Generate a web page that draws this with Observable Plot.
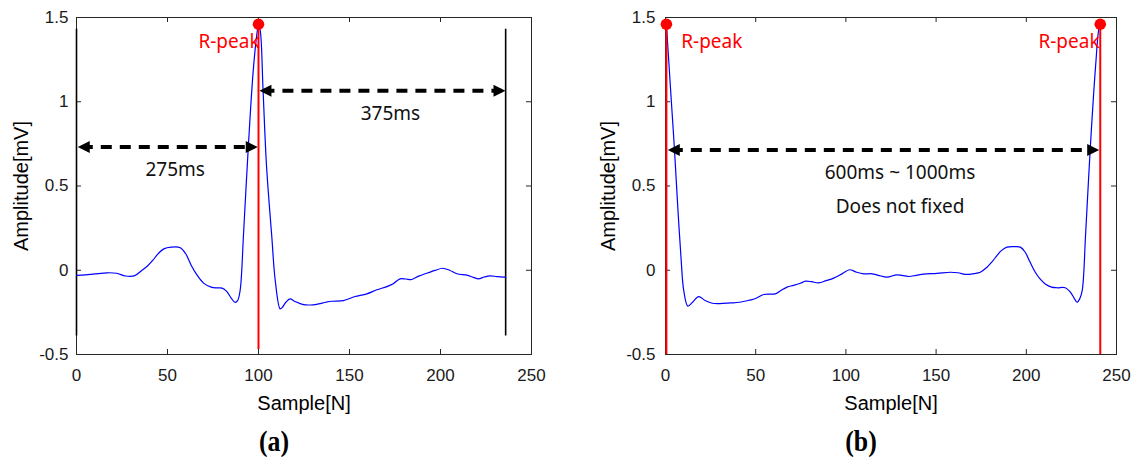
<!DOCTYPE html>
<html><head><meta charset="utf-8">
<script src="https://cdn.jsdelivr.net/npm/d3@7"></script>
<script src="https://cdn.jsdelivr.net/npm/@observablehq/plot@0.6"></script>
<style>
html,body{margin:0;padding:0;background:#fff;}
#wrap{position:relative;width:1135px;height:457px;overflow:hidden;background:#fff;}
.panel{position:absolute;top:0;}
.cap{position:absolute;top:441px;transform:translate(-50%,-50%) scaleX(0.86);font-family:"Liberation Serif","Times New Roman",serif;font-weight:bold;font-size:30px;line-height:1;color:#000;}
</style></head><body>
<div id="wrap">
  <div id="pa" class="panel" style="left:0px"></div>
  <div id="pb" class="panel" style="left:560px"></div>
  <div class="cap" style="left:274px">(a)</div>
  <div class="cap" style="left:861px">(b)</div>
</div>
<script>
// ---- axes ----
const xTicks = [0, 50, 100, 150, 200, 250];
const yTicks = [-0.5, 0, 0.5, 1, 1.5];
const yTickLabels = ["-0.5", "0", "0.5", "1", "1.5"];
const xLabel = "Sample[N]";
const yLabel = "Amplitude[mV]";

// ---- panel (a) ECG ----
const sampleA = [0,5,10,17,22,27,32,36,39,42,45,48,52,57,60,63,66,70,74,77,80,82.5,85,87,88.5,89.9,91.8,94.5,97.3,99.6,100,101,102.5,104.4,107.3,109.2,111.9,113,115,117.4,120,124.7,130,133,137,140.3,146.7,150,153.1,159.5,165,170.5,174,177.8,181,184.2,188,191.6,195,197,201.1,205,209,214.5,218,220.9,224,227.3,231,234.6,235.8];
const ampA    = [-0.03,-0.028,-0.022,-0.015,-0.018,-0.034,-0.032,0.0,0.025,0.06,0.1,0.127,0.137,0.134,0.098,0.03,-0.025,-0.078,-0.1,-0.105,-0.106,-0.125,-0.165,-0.19,-0.18,-0.12,0.22,0.75,1.21,1.44,1.46,1.42,1.07,0.62,0.2,-0.061,-0.229,-0.222,-0.19,-0.17,-0.185,-0.204,-0.205,-0.2,-0.19,-0.184,-0.18,-0.168,-0.156,-0.14,-0.116,-0.097,-0.08,-0.051,-0.052,-0.055,-0.035,-0.021,-0.008,-0.001,0.012,0.0,-0.021,-0.029,-0.042,-0.051,-0.04,-0.033,-0.038,-0.041,-0.041];

// ---- panel (b) ECG ----
const sampleB = [0.5,3.2,5.0,6.8,8.7,10.1,12.4,15,18.4,22,25.9,30,36,41,47.1,50,54.5,60.9,64,67.4,71,74.8,77.6,81,84.9,89,93.2,98,102.1,106,109.9,114.5,118,122.8,128.4,134.8,139,143.1,150.5,157.9,162,167.1,171,174.5,178.2,181,183.8,186,189.3,193,196.7,199.4,202,205,207.5,210.5,214,217,221.6,224.4,226.5,228.1,229.6,231,232.9,235.6,238.4,240.3,241];
const ampB    = [1.46,1.009,0.712,0.375,0.058,-0.12,-0.213,-0.19,-0.156,-0.18,-0.196,-0.198,-0.194,-0.19,-0.176,-0.168,-0.144,-0.14,-0.12,-0.1,-0.09,-0.077,-0.065,-0.068,-0.075,-0.062,-0.047,-0.02,0.003,-0.012,-0.021,-0.021,-0.03,-0.041,-0.027,-0.037,-0.03,-0.023,-0.019,-0.012,-0.015,-0.025,-0.02,-0.012,0.018,0.05,0.088,0.115,0.137,0.14,0.137,0.107,0.05,-0.012,-0.05,-0.081,-0.1,-0.104,-0.104,-0.13,-0.165,-0.19,-0.17,-0.12,0.22,0.75,1.21,1.44,1.46];

// ---- R-peaks ----
const peakSampleA = [100];
const peakSampleB = [0.5, 241];
const peakAmp = 1.46;
const redBottomA = -0.47;
const redBottomB = -0.5;
const peakLabel = "R-peak";
const peakLabelSampleA = [100.6];
const peakLabelAnchorA = ["end"];
const peakLabelSampleB = [8.7, 240.6];
const peakLabelAnchorB = ["start", "end"];
const peakLabelAmp = 1.355;

// ---- window limits (a) ----
const windowSampleA = [0, 235.8];
const windowLowA = -0.39;
const windowHighA = 1.43;

// ---- interval arrows ----
const arrowStartA = [2.9, 102.7];
const arrowEndA   = [97.4, 233.5];
const arrowAmpA   = [0.731, 1.066];
const arrowStartB = [3.5];
const arrowEndB   = [238.2];
const arrowAmpB   = [0.713];

// ---- annotation texts ----
const noteTextA   = ["275ms", "375ms"];
const noteSampleA = [54.2, 172.5];
const noteAmpA    = [0.593, 0.925];
const noteTextB   = ["600ms ~ 1000ms", "Does not fixed"];
const noteSampleB = [130, 130];
const noteAmpB    = [0.577, 0.375];

const zip = (xs, ys) => xs.map((x, i) => ({x, y: ys[i]}));

function tri(color, context) {
  const doc = (context && context.document) || document;
  const ns = "http://www.w3.org/2000/svg";
  const m = doc.createElementNS(ns, "marker");
  m.setAttribute("viewBox", "-10 -8 16 16");
  m.setAttribute("markerWidth", "16");
  m.setAttribute("markerHeight", "16");
  m.setAttribute("markerUnits", "userSpaceOnUse");
  m.setAttribute("orient", "auto-start-reverse");
  m.setAttribute("overflow", "visible");
  const p = doc.createElementNS(ns, "path");
  p.setAttribute("d", "M-8,-6L4,0L-8,6Z");
  p.setAttribute("fill", color || "black");
  p.setAttribute("stroke", "none");
  m.appendChild(p);
  return m;
}

const H = 420, MT = 17, MB = 66;
const tickFont = "'Liberation Sans', Arial, sans-serif";
const noteFont = "'Noto Sans', 'Open Sans', sans-serif";

function panel(cfg) {
  const fh = H - MT - MB;
  const fw = cfg.width - cfg.marginLeft - cfg.marginRight;
  const ecg = zip(cfg.samples, cfg.amps);
  const arrows = cfg.arrowStart.map((s, i) => ({x1: s, x2: cfg.arrowEnd[i], y: cfg.arrowAmp[i]}));
  const notes = cfg.noteText.map((t, i) => ({t, x: cfg.noteSample[i], y: cfg.noteAmp[i]}));
  const marks = [
    Plot.frame({stroke: "#262626", strokeWidth: 1}),
    Plot.ruleX(xTicks, {insetTop: fh - 5, stroke: "#262626"}),
    Plot.ruleX(xTicks, {insetBottom: fh - 5, stroke: "#262626"}),
    Plot.ruleY(yTicks, {insetRight: fw - 5, stroke: "#262626"}),
    Plot.ruleY(yTicks, {insetLeft: fw - 5, stroke: "#262626"}),
    Plot.axisX({ticks: xTicks, tickSize: 0, tickPadding: 14, label: null, fontSize: 17, fontFamily: tickFont, fill: "#1a1a1a", tickFormat: d => String(d)}),
    Plot.axisX({ticks: [], tickSize: 0, label: xLabel, labelAnchor: "center", labelArrow: "none", labelOffset: 55, fontSize: 20, fontFamily: tickFont, fill: "#000"}),
    Plot.axisY({ticks: yTicks, tickSize: 0, tickPadding: cfg.yPad, label: null, fontSize: 17, fontFamily: tickFont, fill: "#1a1a1a", tickFormat: d => yTickLabels[yTicks.indexOf(d)]}),
    Plot.axisY({ticks: [], tickSize: 0, label: yLabel, labelAnchor: "center", labelArrow: "none", labelOffset: cfg.yLabelOffset, fontSize: 20, fontFamily: tickFont, fill: "#000"})
  ];
  if (cfg.windowSample) {
    marks.push(Plot.ruleX(cfg.windowSample, {y1: windowLowA, y2: windowHighA, stroke: "#000", strokeWidth: 1.6}));
  }
  marks.push(
    Plot.line(ecg, {x: "x", y: "y", stroke: "#0000ff", strokeWidth: 1.2, curve: "catmull-rom"}),
    Plot.ruleX(cfg.peaks, {y1: cfg.redBottom, y2: peakAmp, stroke: "#ff0000", strokeWidth: 2}),
    Plot.dot(cfg.peaks, {x: d => d, y: () => peakAmp, r: 5.8, fill: "#ff0000", stroke: "none"}),
    Plot.link(arrows, {x1: "x1", x2: "x2", y1: "y", y2: "y", stroke: "#000", strokeWidth: 4, strokeDasharray: "11,8", markerStart: tri, markerEnd: tri}),
    Plot.text(notes, {x: "x", y: "y", text: "t", fontSize: 19, fontFamily: noteFont, fill: "#111"})
  );
  cfg.peakLabelSample.forEach((s, i) => {
    marks.push(Plot.text([s], {x: d => d, y: () => peakLabelAmp, text: () => peakLabel,
      textAnchor: cfg.peakLabelAnchor[i], fontSize: 19, fontFamily: noteFont, fill: "#ff0000"}));
  });
  return Plot.plot({
    width: cfg.width, height: H,
    marginLeft: cfg.marginLeft, marginRight: cfg.marginRight, marginTop: MT, marginBottom: MB,
    x: {domain: [0, 250]},
    y: {domain: [-0.5, 1.5]},
    style: {background: "transparent", overflow: "visible"},
    marks
  });
}

document.getElementById("pa").appendChild(panel({
  width: 560, marginLeft: 76, marginRight: 29, yPad: 8, yLabelOffset: 63,
  samples: sampleA, amps: ampA, peaks: peakSampleA, redBottom: redBottomA,
  windowSample: windowSampleA,
  arrowStart: arrowStartA, arrowEnd: arrowEndA, arrowAmp: arrowAmpA,
  noteText: noteTextA, noteSample: noteSampleA, noteAmp: noteAmpA,
  peakLabelSample: peakLabelSampleA, peakLabelAnchor: peakLabelAnchorA
}));
document.getElementById("pb").appendChild(panel({
  width: 575, marginLeft: 105, marginRight: 19, yPad: 10, yLabelOffset: 65,
  samples: sampleB, amps: ampB, peaks: peakSampleB, redBottom: redBottomB,
  windowSample: null,
  arrowStart: arrowStartB, arrowEnd: arrowEndB, arrowAmp: arrowAmpB,
  noteText: noteTextB, noteSample: noteSampleB, noteAmp: noteAmpB,
  peakLabelSample: peakLabelSampleB, peakLabelAnchor: peakLabelAnchorB
}));
</script>
</body></html>
